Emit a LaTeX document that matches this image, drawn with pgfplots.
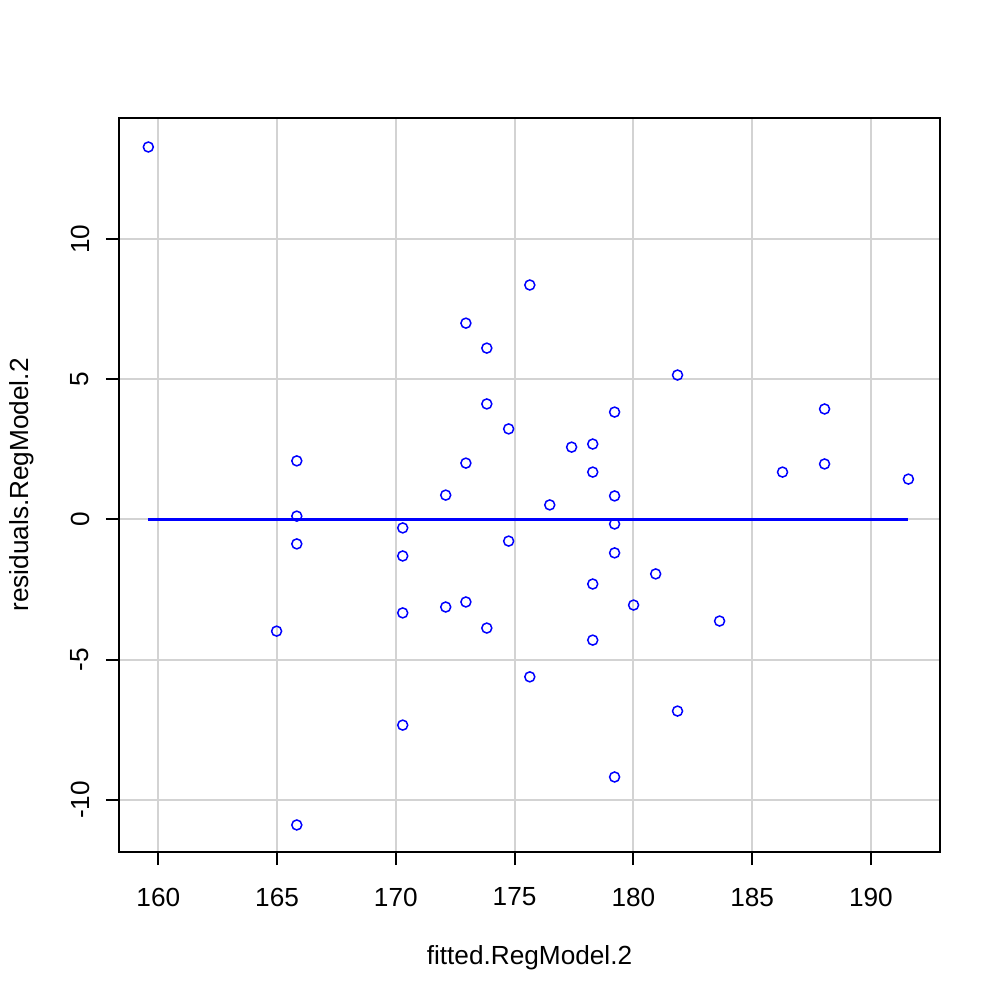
\documentclass[border=0pt]{standalone}
\usepackage{fontspec}
\setmainfont{Liberation Sans}
\usepackage{pgfplots}
\pgfplotsset{compat=1.18}
\definecolor{rblue}{RGB}{0,0,255}
\definecolor{rgrid}{RGB}{211,211,211}

\begin{document}
\fontsize{13.1bp}{16bp}\selectfont
\begin{tikzpicture}
\useasboundingbox (0,0) rectangle (500bp,500bp);
\begin{axis}[
    at={(59.5bp,74bp)}, anchor=south west,
    scale only axis,
    width=410.5bp, height=367bp,
    xmin=158.345, xmax=192.91,
    ymin=-11.854, ymax=14.314,
    xtick={160,165,...,190},
    ytick={-10,-5,0,5,10},
    grid=major,
    major grid style={rgrid, line width=1bp},
    axis line style={line width=1bp},
    tick style={black, line width=1bp},
    tick align=outside,
    major tick length=6.5bp,
    xtick pos=left, ytick pos=left,
    /pgf/number format/assume math mode=true,
    xticklabel style={anchor=center, yshift=-16bp},
    yticklabel style={xshift=-13bp, rotate=90, anchor=center},
    xlabel={fitted.RegModel.2},
    ylabel={residuals.RegModel.2},
    xlabel style={at={(axis description cs:0.5,-0.1444)}, anchor=center},
    ylabel style={at={(axis description cs:-0.1181,0.5)}, anchor=center},
]
\addplot[rblue, line width=1.3bp, forget plot] coordinates {(159.58,0) (191.55,0)};
\addplot[only marks, mark=o, mark size=2.5bp, rblue, mark options={line width=0.75bp}] coordinates {
(159.58,13.28)
(165.83,2.09) (165.83,0.12) (165.83,-0.87) (164.98,-3.98) (165.83,-10.89)
(170.29,-0.30) (170.29,-1.30) (170.29,-3.33) (170.29,-7.33)
(172.10,0.87) (172.10,-3.12)
(172.95,7.00) (172.95,2.01) (172.95,-2.94)
(173.83,6.11) (173.83,4.12) (173.83,-3.87)
(174.75,3.23) (174.75,-0.77)
(175.64,8.36) (175.64,-5.61)
(176.48,0.52)
(177.40,2.58)
(178.29,2.69) (178.29,1.69) (178.29,-2.30) (178.29,-4.30)
(179.21,3.83) (179.21,0.84) (179.21,-0.16) (179.21,-1.19) (179.21,-9.18)
(180.01,-3.05)
(180.94,-1.94)
(181.86,5.15) (181.86,-6.83)
(183.63,-3.62)
(186.28,1.69)
(188.05,3.94) (188.05,1.98)
(191.58,1.44)
};
\end{axis}
\end{tikzpicture}
\end{document}
